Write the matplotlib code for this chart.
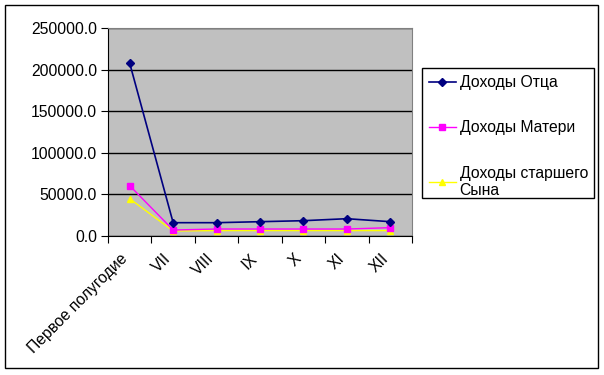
import matplotlib
matplotlib.use("Agg")
import matplotlib.pyplot as plt
import matplotlib.transforms as mtransforms
from matplotlib.patches import Rectangle

plt.rcParams['font.family'] = ['Liberation Sans', 'DejaVu Sans']

categories = ["Первое полугодие", "VII", "VIII", "IX", "X", "XI", "XII"]
father = [207600, 16000, 16000, 17200, 18400, 20800, 17200]
mother = [60500, 7200, 8400, 8400, 8400, 8400, 10000]
son = [44800, 6000, 6500, 6500, 6500, 6500, 6500]
series_names = ["Доходы Отца", "Доходы Матери", "Доходы старшего\nСына"]
yticks = [0, 50000, 100000, 150000, 200000, 250000]

FS = 11.3
W, H = 604, 375
fig = plt.figure(figsize=(W/100, H/100), dpi=100)
fig.patches.append(Rectangle((5/W, 1-368/H), 593/W, 363/H, transform=fig.transFigure,
                             fill=False, edgecolor='black', linewidth=1.0))
fig.patches.append(Rectangle((422/W, 1-198/H), 172/W, 130/H, transform=fig.transFigure,
                             fill=False, edgecolor='black', linewidth=1.0))

ax = fig.add_axes([108/W, 1-236/H, 304/W, 208/H])
ax.set_facecolor('#C0C0C0')
x = list(range(len(categories)))
ax.plot(x, father, color='#000080', marker='D', markersize=4.5, linewidth=1.2, label=series_names[0], zorder=5)
ax.plot(x, mother, color='#FF00FF', marker='s', markersize=5, linewidth=1.0, label=series_names[1], zorder=4)
ax.plot(x, son, color='#FFFF00', marker='^', markersize=5, linewidth=1.0, label=series_names[2], zorder=3)

ax.set_xlim(-0.5, len(categories)-0.5)
ax.set_ylim(0, 250000)
ax.set_yticks(yticks)
ax.set_yticklabels([f"{v:.1f}" for v in yticks], fontsize=FS)
ax.yaxis.grid(True, color='black', linewidth=1.0)
ax.set_axisbelow(True)

ax.set_xticks([i-0.5 for i in range(len(categories)+1)])
ax.set_xticklabels([])
ax.set_xticks(x, minor=True)
ax.set_xticklabels(categories, minor=True, rotation=45, ha='right', rotation_mode='anchor', fontsize=FS)
ax.tick_params(axis='x', which='minor', length=0, pad=11)
ax.tick_params(axis='x', which='major', length=5, direction='out', color='black')
ax.tick_params(axis='y', length=5, direction='out', color='black', pad=3)
offset = mtransforms.ScaledTranslation(-10/100, 0, fig.dpi_scale_trans)
for lbl in ax.get_xticklabels(minor=True):
    lbl.set_transform(lbl.get_transform() + offset)

for s in ['top', 'right']:
    ax.spines[s].set_color('#808080')
for s in ['left', 'bottom']:
    ax.spines[s].set_color('black')

leg = fig.legend(loc='upper left', bbox_to_anchor=(422/W, 1-68/H), fontsize=FS,
                 frameon=False,
                 labelspacing=1.93, handlelength=1.7, borderpad=0.45, handletextpad=0.25,
                 borderaxespad=0)

fig.savefig('out.png', dpi=100)
